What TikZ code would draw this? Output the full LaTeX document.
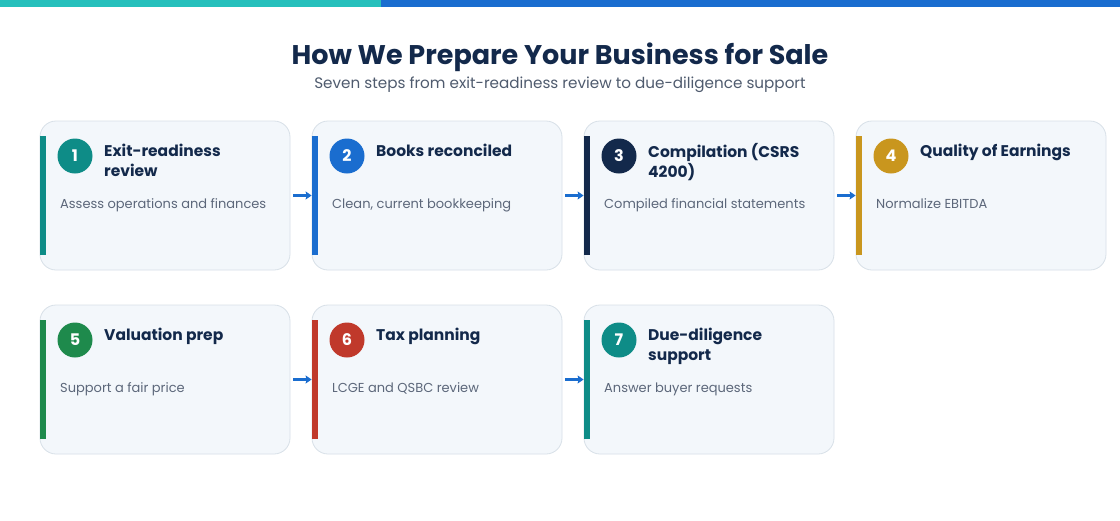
\documentclass[tikz,border=0pt]{standalone}
\usepackage{fontspec}
\setmainfont{Poppins}
\usetikzlibrary{arrows.meta}
\definecolor{navy}{HTML}{13294B}
\definecolor{subgray}{HTML}{4F5B6E}
\definecolor{descgray}{HTML}{5C677A}
\definecolor{cardfill}{HTML}{F3F7FB}
\definecolor{cardline}{HTML}{D8E0E8}
\definecolor{topteal}{HTML}{26C0BC}
\definecolor{topblue}{HTML}{1A6DCF}
\definecolor{cteal}{HTML}{0E8C87}
\definecolor{cblue}{HTML}{1A6DCF}
\definecolor{cnavy}{HTML}{13294B}
\definecolor{cgold}{HTML}{C9961E}
\definecolor{cgreen}{HTML}{1E8A4C}
\definecolor{cred}{HTML}{C0392B}
\tikzset{
  card/.style={draw=cardline, line width=0.8pt, fill=cardfill, rounded corners=16pt,
    minimum width=250pt, minimum height=149pt, inner sep=0pt},
  numcirc/.style={circle, fill=#1, minimum size=35pt, inner sep=0pt, text=white,
    font=\fontsize{16}{18}\selectfont\bfseries},
  steptitle/.style={anchor=north west, inner sep=0pt, align=left, text=navy,
    font=\fontsize{15.5}{20}\selectfont\bfseries},
  stepdesc/.style={anchor=base west, inner sep=0pt, text=descgray,
    font=\fontsize{13}{16}\selectfont},
  flow/.style={draw=cblue, line width=2.6pt, -{Stealth[length=6pt,width=8pt,inset=1pt]}}
}
\newcommand{\stepcard}[7]{%
  % #1 name, #2 x left, #3 y top, #4 colour, #5 number, #6 title, #7 desc
  \node[card] (#1) at (#2+125,#3+74.5) {};
  \fill[#4] (#2,#3+15) rectangle (#2+6,#3+134);
  \node[numcirc=#4] (#1n) at (#2+35,#3+35) {#5};
  \node[steptitle] (#1t) at (#2+64,#3+22.5) {#6};
  \node[stepdesc] (#1d) at (#2+20,#3+87) {#7};
}
\begin{document}
\begin{tikzpicture}[x=1pt,y=-1pt]
\useasboundingbox (0,0) rectangle (1120,520);
\fill[white] (0,0) rectangle (1120,520);
\fill[topteal] (0,0) rectangle (381,7);
\fill[topblue] (381,0) rectangle (1120,7);
\node[anchor=base, inner sep=0pt, text=navy, font=\fontsize{27}{30}\selectfont\bfseries] (title) at (560,64) {How We Prepare Your Business for Sale};
\node[anchor=base, inner sep=0pt, text=subgray, font=\fontsize{15.2}{18}\selectfont] (subtitle) at (560,88) {Seven steps from exit-readiness review to due-diligence support};
\stepcard{s1}{40}{121}{cteal}{1}{Exit-readiness\\review}{Assess operations and finances}
\stepcard{s2}{312}{121}{cblue}{2}{Books reconciled}{Clean, current bookkeeping}
\stepcard{s3}{584}{121}{cnavy}{3}{Compilation (CSRS\\4200)}{Compiled financial statements}
\stepcard{s4}{856}{121}{cgold}{4}{Quality of Earnings}{Normalize EBITDA}
\stepcard{s5}{40}{305}{cgreen}{5}{Valuation prep}{Support a fair price}
\stepcard{s6}{312}{305}{cred}{6}{Tax planning}{LCGE and QSBC review}
\stepcard{s7}{584}{305}{cteal}{7}{Due-diligence\\support}{Answer buyer requests}
\draw[flow] ([xshift=3pt]s1.east) -- (s2.west);
\draw[flow] ([xshift=3pt]s2.east) -- (s3.west);
\draw[flow] ([xshift=3pt]s3.east) -- (s4.west);
\draw[flow] ([xshift=3pt]s5.east) -- (s6.west);
\draw[flow] ([xshift=3pt]s6.east) -- (s7.west);
\end{tikzpicture}
\end{document}
